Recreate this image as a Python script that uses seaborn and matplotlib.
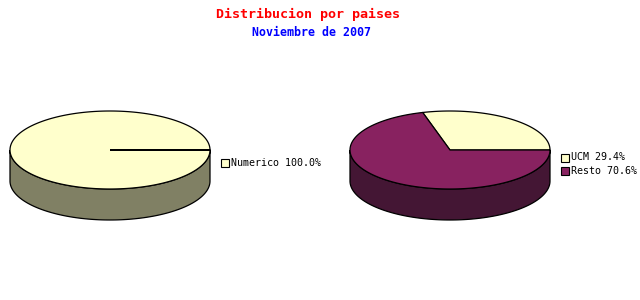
import numpy as np
import matplotlib
matplotlib.use("Agg")
import matplotlib.pyplot as plt
from matplotlib.patches import Polygon, Rectangle
import seaborn as sns

# ---- data ----
title = "Distribucion por paises"
subtitle = "Noviembre de 2007"
left_labels = ["Numerico"]
left_values = [100.0]
right_labels = ["UCM", "Resto"]
right_values = [29.4, 70.6]

top_colors = ["#FFFFCC", "#882260"]
side_colors = ["#808064", "#441634"]

sns.set_theme(style="white")
plt.rcParams['font.family'] = ['DejaVu Sans Mono', 'DejaVu Sans']

fig = plt.figure(figsize=(6.4, 3.0), dpi=100)
ax = fig.add_axes([0, 0, 1, 1])
ax.set_xlim(0, 640)
ax.set_ylim(300, 0)
ax.axis("off")

RX, RY, DEPTH = 100, 39, 31


def pt(cx, cy, t):
    return cx + RX * np.cos(t), cy - RY * np.sin(t)


def draw_pie(cx, cy, values, labels, legend_x, legend_y):
    total = sum(values)
    fracs = [v / total for v in values]
    starts = np.cumsum([0] + fracs[:-1]) * 2 * np.pi
    ends = starts + np.array(fracs) * 2 * np.pi
    # sides (visible lower half: pi..2pi)
    for i, (s, e) in enumerate(zip(starts, ends)):
        for lo, hi in [(np.pi, 2 * np.pi), (3 * np.pi, 4 * np.pi)]:
            a, b = max(s, lo), min(e, hi)
            if b <= a:
                continue
            t = np.linspace(a, b, 200)
            xs, ys = pt(cx, cy, t)
            top = list(zip(xs, ys))
            bot = list(zip(xs[::-1], ys[::-1] + DEPTH))
            ax.add_patch(Polygon(top + bot, closed=True, facecolor=side_colors[i % 2],
                                 edgecolor="black", linewidth=0.9, zorder=2))
    # tops
    for i, (s, e) in enumerate(zip(starts, ends)):
        t = np.linspace(s, e, 400)
        xs, ys = pt(cx, cy, t)
        verts = [(cx, cy)] + list(zip(xs, ys))
        ax.add_patch(Polygon(verts, closed=True, facecolor=top_colors[i % 2],
                             edgecolor="black", linewidth=0.9, zorder=3))
    # legend
    for i, (lab, v) in enumerate(zip(labels, values)):
        y = legend_y + i * 13
        ax.add_patch(Rectangle((legend_x, y - 4), 8, 8, facecolor=top_colors[i % 2],
                               edgecolor="black", linewidth=0.8, zorder=4))
        ax.text(legend_x + 10.5, y, f"{lab} {100 * v / total:.1f}%", fontsize=7.2,
                color="black", va="center", ha="left")


draw_pie(110, 150, left_values, left_labels, 220.5, 162.5)
draw_pie(450, 150, right_values, right_labels, 560.5, 157.5)

ax.text(308, 14, title, color="#FF0000", fontsize=9.6, fontweight="bold",
        ha="center", va="center")
ax.text(311, 32, subtitle, color="#0000FF", fontsize=8.4, fontweight="bold",
        ha="center", va="center")

fig.savefig("out.png", dpi=100)
